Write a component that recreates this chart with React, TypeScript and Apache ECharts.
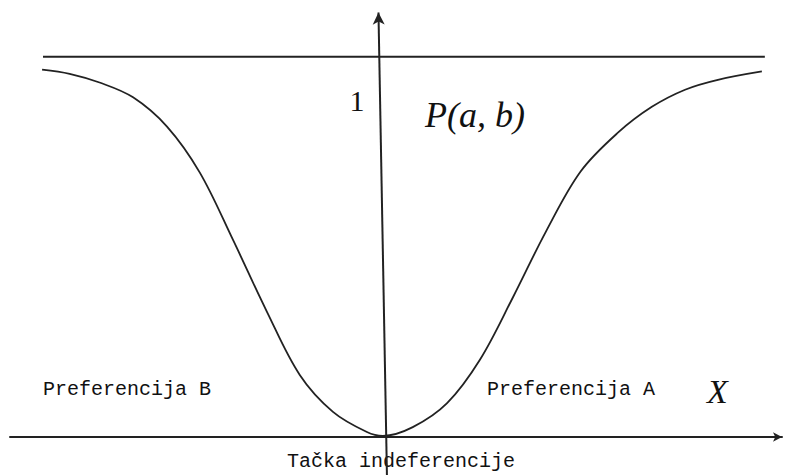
import React, { useEffect, useRef } from "react";
import * as echarts from "echarts";

// Curve P(a,b) (x in chart units, y where 1 = top line)
const curveX = [-9.14, -8.4, -7.6, -6.7, -5.79, -4.91, -4.02, -3.11, -2.23, -1.34, -0.43, 0, 0.8, 1.72, 2.6, 3.49, 4.37, 5.3, 6.3, 7.21, 8.1, 8.98, 10.16];
const curveY = [0.966, 0.955, 0.932, 0.893, 0.816, 0.695, 0.518, 0.329, 0.163, 0.066, 0.013, 0.003, 0.026, 0.089, 0.203, 0.368, 0.54, 0.698, 0.8, 0.868, 0.913, 0.939, 0.961];

// Asymptote y = 1
const asymptoteX = [-9.115, 10.24];
const asymptoteY = [1, 1];

// Vertical axis (slightly tilted in the original)
const vAxisStart = [0.107, -0.1];
const vAxisEnd = [-0.12, 1.116];

const labelOne = "1";
const labelP = "P(a, b)";
const labelB = "Preferencija B";
const labelA = "Preferencija A";
const labelX = "X";
const labelT = "Tačka indeferencije";

export default function App() {
  const ref = useRef<HTMLDivElement>(null);
  useEffect(() => {
    if (!ref.current) return;
    const chart = echarts.init(ref.current, null, { renderer: "svg" });
    const ink = "#222222";
    const txt = "#111111";
    chart.setOption({
      animation: false,
      backgroundColor: "#ffffff",
      grid: { left: 10, right: 3, top: 11, bottom: 0 },
      xAxis: {
        type: "value",
        min: -10,
        max: 10.7,
        axisLine: {
          show: true,
          onZero: true,
          symbol: ["none", "arrow"],
          symbolSize: [7, 9],
          lineStyle: { color: ink, width: 2 },
        },
        axisTick: { show: false },
        axisLabel: { show: false },
        splitLine: { show: false },
      },
      yAxis: {
        type: "value",
        min: -0.1,
        max: 1.12,
        axisLine: { show: false },
        axisTick: { show: false },
        axisLabel: { show: false },
        splitLine: { show: false },
      },
      series: [
        {
          type: "line",
          data: curveX.map((x, i) => [x, curveY[i]]),
          smooth: 0.35,
          symbol: "none",
          lineStyle: { color: ink, width: 1.8 },
          z: 3,
        },
        {
          type: "line",
          data: asymptoteX.map((x, i) => [x, asymptoteY[i]]),
          symbol: "none",
          lineStyle: { color: ink, width: 2 },
          markLine: {
            silent: true,
            symbol: ["none", "arrow"],
            symbolSize: [9, 12],
            label: { show: false },
            lineStyle: { type: "solid", color: ink, width: 2 },
            data: [[{ coord: vAxisStart }, { coord: vAxisEnd }]],
          },
          z: 4,
        },
      ],
      graphic: [
        {
          type: "text",
          x: 357,
          y: 100,
          style: { text: labelOne, fontFamily: "Liberation Serif", fontSize: 30, fill: txt, textAlign: "center", textVerticalAlign: "middle" },
        },
        {
          type: "text",
          x: 425,
          y: 115,
          style: { text: labelP, fontFamily: "Liberation Serif", fontStyle: "italic", fontSize: 36, fill: txt, textAlign: "left", textVerticalAlign: "middle" },
        },
        {
          type: "text",
          x: 43,
          y: 389,
          style: { text: labelB, fontFamily: "Liberation Mono", fontSize: 20, fill: txt, textAlign: "left", textVerticalAlign: "middle" },
        },
        {
          type: "text",
          x: 487,
          y: 389,
          style: { text: labelA, fontFamily: "Liberation Mono", fontSize: 20, fill: txt, textAlign: "left", textVerticalAlign: "middle" },
        },
        {
          type: "text",
          x: 707,
          y: 391,
          style: { text: labelX, fontFamily: "Liberation Serif", fontStyle: "italic", fontSize: 34, fill: txt, textAlign: "left", textVerticalAlign: "middle" },
        },
        {
          type: "text",
          x: 287,
          y: 461,
          z: -1,
          style: { text: labelT, fontFamily: "Liberation Mono", fontSize: 20, fill: txt, textAlign: "left", textVerticalAlign: "middle" },
        },
      ],
    });
    return () => chart.dispose();
  }, []);
  return (
    <div
      ref={ref}
      style={{ position: "fixed", left: 0, top: 0, width: 785, height: 475, background: "#fff" }}
    />
  );
}
